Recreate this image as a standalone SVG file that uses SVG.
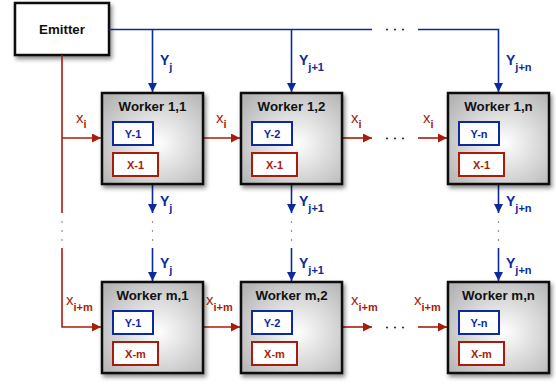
<svg xmlns="http://www.w3.org/2000/svg" width="556" height="384" viewBox="0 0 556 384">
<defs>
<radialGradient id="wg" cx="0.55" cy="0.55" r="0.7">
<stop offset="0" stop-color="#ffffff"/>
<stop offset="1" stop-color="#b4b4b4"/>
</radialGradient>
<filter id="sh" x="-20%" y="-20%" width="150%" height="150%">
<feDropShadow dx="2" dy="3" stdDeviation="2" flood-color="#000" flood-opacity="0.45"/>
</filter>
<marker id="ab" markerWidth="9" markerHeight="9" refX="9" refY="4.5" orient="auto" markerUnits="userSpaceOnUse">
<path d="M0,0 L9,4.5 L0,9 z" fill="#0d2a9c"/>
</marker>
<marker id="ar" markerWidth="9" markerHeight="9" refX="9" refY="4.5" orient="auto" markerUnits="userSpaceOnUse">
<path d="M0,0 L9,4.5 L0,9 z" fill="#a81c0c"/>
</marker>
</defs>
<style>
text{font-family:"Liberation Sans",Arial,sans-serif;}
.title{font-size:13.3px;font-weight:bold;fill:#111;text-anchor:middle;}
.wk{fill:url(#wg);stroke:#111;stroke-width:2.5;filter:url(#sh);}
.yb{fill:#fff;stroke:#0d2a9c;stroke-width:2;}
.xb{fill:#fff;stroke:#a81c0c;stroke-width:2;}
.yt{font-size:11px;font-weight:bold;fill:#0d2a9c;text-anchor:middle;}
.xt{font-size:11px;font-weight:bold;fill:#a81c0c;text-anchor:middle;}
.bl{stroke:#0d2a9c;stroke-width:1.6;fill:none;}
.rd{stroke:#a81c0c;stroke-width:1.6;fill:none;}
.ylab{font-size:14px;font-weight:bold;fill:#0d2a9c;}
.ysub{font-size:11px;}
.xlab{font-size:15px;fill:#a81c0c;}
.xsub{font-size:11px;font-weight:bold;}
.hd{fill:#222;}
.dot{fill:#555;}
</style>

<g id="emitter">
<rect x="15" y="3" width="94" height="52" fill="#fff" stroke="#111" stroke-width="2.5" filter="url(#sh)"/>
<text x="62" y="34" class="title">Emitter</text>
</g>

<g id="connectors">
<!-- blue top distribution -->
<path class="bl" d="M109,29.5 H372"/>
<path class="bl" d="M418,29.5 H498.5 V92" marker-end="url(#ab)"/>
<path class="bl" d="M152.5,29.5 V92" marker-end="url(#ab)"/>
<path class="bl" d="M291.5,29.5 V92" marker-end="url(#ab)"/>
<g class="hd">
<circle cx="387" cy="29.5" r="1"/><circle cx="395" cy="29.5" r="1"/><circle cx="403" cy="29.5" r="1"/>
<circle cx="387" cy="138.5" r="1"/><circle cx="395" cy="138.5" r="1"/><circle cx="403" cy="138.5" r="1"/>
<circle cx="387" cy="327.5" r="1"/><circle cx="395" cy="327.5" r="1"/><circle cx="403" cy="327.5" r="1"/>
</g>
<!-- blue between rows -->
<path class="bl" d="M152.5,184 V213" marker-end="url(#ab)"/>
<path class="bl" d="M291.5,184 V213" marker-end="url(#ab)"/>
<path class="bl" d="M498.5,184 V213" marker-end="url(#ab)"/>
<path class="bl" d="M152.5,248 V281" marker-end="url(#ab)"/>
<path class="bl" d="M291.5,248 V281" marker-end="url(#ab)"/>
<path class="bl" d="M498.5,248 V281" marker-end="url(#ab)"/>
<!-- vertical dots -->
<g class="dot">
<circle cx="62" cy="222" r="0.7"/><circle cx="62" cy="231" r="0.7"/><circle cx="62" cy="240" r="0.7"/>
<circle cx="152.5" cy="222" r="0.7"/><circle cx="152.5" cy="231" r="0.7"/><circle cx="152.5" cy="240" r="0.7"/>
<circle cx="291.5" cy="222" r="0.7"/><circle cx="291.5" cy="231" r="0.7"/><circle cx="291.5" cy="240" r="0.7"/>
<circle cx="498.5" cy="222" r="0.7"/><circle cx="498.5" cy="231" r="0.7"/><circle cx="498.5" cy="240" r="0.7"/>
</g>
<!-- red -->
<path class="rd" d="M62,55 V213"/>
<path class="rd" d="M62,138 H101" marker-end="url(#ar)"/>
<path class="rd" d="M62,248 V327 H101" marker-end="url(#ar)"/>
<path class="rd" d="M203,138 H240" marker-end="url(#ar)"/>
<path class="rd" d="M342,138 H372" marker-end="url(#ar)"/>
<path class="rd" d="M418,138 H447" marker-end="url(#ar)"/>
<path class="rd" d="M203,327 H240" marker-end="url(#ar)"/>
<path class="rd" d="M342,327 H372" marker-end="url(#ar)"/>
<path class="rd" d="M418,327 H447" marker-end="url(#ar)"/>
<!-- blue labels -->
<text class="ylab" x="160" y="65">Y<tspan class="ysub" dy="6">j</tspan></text>
<text class="ylab" x="299" y="65">Y<tspan class="ysub" dy="6">j+1</tspan></text>
<text class="ylab" x="506" y="65">Y<tspan class="ysub" dy="6">j+n</tspan></text>
<text class="ylab" x="160" y="206">Y<tspan class="ysub" dy="6">j</tspan></text>
<text class="ylab" x="299" y="206">Y<tspan class="ysub" dy="6">j+1</tspan></text>
<text class="ylab" x="506" y="206">Y<tspan class="ysub" dy="6">j+n</tspan></text>
<text class="ylab" x="160" y="268">Y<tspan class="ysub" dy="6">j</tspan></text>
<text class="ylab" x="299" y="268">Y<tspan class="ysub" dy="6">j+1</tspan></text>
<text class="ylab" x="506" y="268">Y<tspan class="ysub" dy="6">j+n</tspan></text>
<!-- red labels -->
<text class="xlab" x="76" y="123">x<tspan class="xsub" dy="5">i</tspan></text>
<text class="xlab" x="216" y="123">x<tspan class="xsub" dy="5">i</tspan></text>
<text class="xlab" x="351" y="123">x<tspan class="xsub" dy="5">i</tspan></text>
<text class="xlab" x="423" y="123">x<tspan class="xsub" dy="5">i</tspan></text>
<text class="xlab" x="66" y="305">x<tspan class="xsub" dy="6">i+m</tspan></text>
<text class="xlab" x="206" y="305">x<tspan class="xsub" dy="6">i+m</tspan></text>
<text class="xlab" x="351" y="305">x<tspan class="xsub" dy="6">i+m</tspan></text>
<text class="xlab" x="414" y="305">x<tspan class="xsub" dy="6">i+m</tspan></text>
</g>

<g id="w11">
<rect class="wk" x="102" y="93" width="101" height="91"/>
<text class="title" x="152.5" y="111">Worker 1,1</text>
<rect class="yb" x="113" y="122" width="40" height="23"/><text class="yt" x="133" y="137.5">Y-1</text>
<rect class="xb" x="113" y="153" width="45" height="23"/><text class="xt" x="135.5" y="168.5">X-1</text>
</g>
<g id="w12">
<rect class="wk" x="241" y="93" width="101" height="91"/>
<text class="title" x="291.5" y="111">Worker 1,2</text>
<rect class="yb" x="252" y="122" width="40" height="23"/><text class="yt" x="272" y="137.5">Y-2</text>
<rect class="xb" x="252" y="153" width="45" height="23"/><text class="xt" x="274.5" y="168.5">X-1</text>
</g>
<g id="w1n">
<rect class="wk" x="448" y="93" width="101" height="91"/>
<text class="title" x="498.5" y="111">Worker 1,n</text>
<rect class="yb" x="459" y="122" width="40" height="23"/><text class="yt" x="479" y="137.5">Y-n</text>
<rect class="xb" x="459" y="153" width="45" height="23"/><text class="xt" x="481.5" y="168.5">X-1</text>
</g>
<g id="wm1">
<rect class="wk" x="102" y="282" width="101" height="91"/>
<text class="title" x="152.5" y="300">Worker m,1</text>
<rect class="yb" x="113" y="311" width="40" height="23"/><text class="yt" x="133" y="326.5">Y-1</text>
<rect class="xb" x="113" y="342" width="45" height="23"/><text class="xt" x="135.5" y="357.5">X-m</text>
</g>
<g id="wm2">
<rect class="wk" x="241" y="282" width="101" height="91"/>
<text class="title" x="291.5" y="300">Worker m,2</text>
<rect class="yb" x="252" y="311" width="40" height="23"/><text class="yt" x="272" y="326.5">Y-2</text>
<rect class="xb" x="252" y="342" width="45" height="23"/><text class="xt" x="274.5" y="357.5">X-m</text>
</g>
<g id="wmn">
<rect class="wk" x="448" y="282" width="101" height="91"/>
<text class="title" x="498.5" y="300">Worker m,n</text>
<rect class="yb" x="459" y="311" width="40" height="23"/><text class="yt" x="479" y="326.5">Y-n</text>
<rect class="xb" x="459" y="342" width="45" height="23"/><text class="xt" x="481.5" y="357.5">X-m</text>
</g>
</svg>
